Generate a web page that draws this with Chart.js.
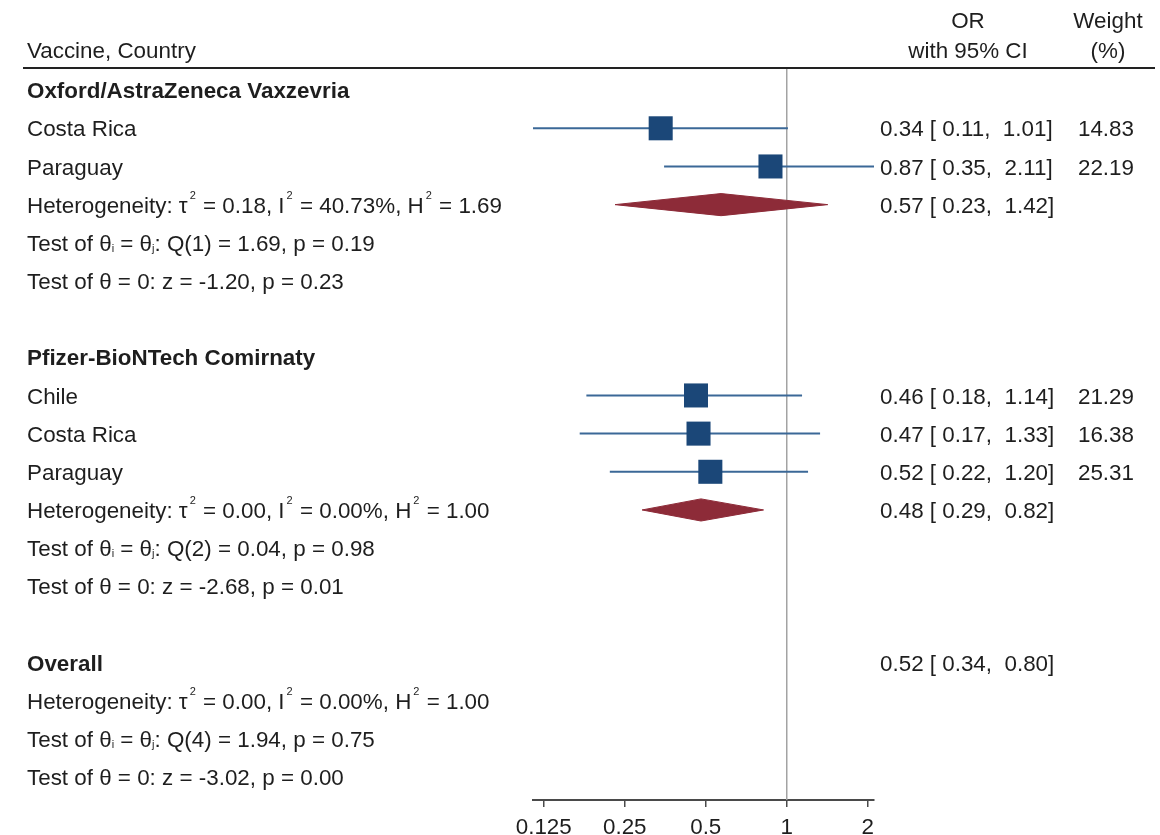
<!DOCTYPE html>
<html>
<head>
<meta charset="utf-8">
<title>Forest plot</title>
<script src="https://cdn.jsdelivr.net/npm/chart.js@4.4.1/dist/chart.umd.min.js"></script>
<style>
  html, body { margin: 0; padding: 0; background: #fff; }
  #wrap { position: relative; width: 1160px; height: 835px; }
</style>
</head>
<body>
<div id="wrap"><canvas id="forest"></canvas></div>
<script>
// left column text, one entry per row (^x = superscript x, _x = subscript x)
const rowLabels = [
  'Oxford/AstraZeneca Vaxzevria',
  'Costa Rica',
  'Paraguay',
  'Heterogeneity: τ^2 = 0.18, I^2 = 40.73%, H^2 = 1.69',
  'Test of θ_i = θ_j: Q(1) = 1.69, p = 0.19',
  'Test of θ = 0: z = -1.20, p = 0.23',
  '',
  'Pfizer-BioNTech Comirnaty',
  'Chile',
  'Costa Rica',
  'Paraguay',
  'Heterogeneity: τ^2 = 0.00, I^2 = 0.00%, H^2 = 1.00',
  'Test of θ_i = θ_j: Q(2) = 0.04, p = 0.98',
  'Test of θ = 0: z = -2.68, p = 0.01',
  '',
  'Overall',
  'Heterogeneity: τ^2 = 0.00, I^2 = 0.00%, H^2 = 1.00',
  'Test of θ_i = θ_j: Q(4) = 1.94, p = 0.75',
  'Test of θ = 0: z = -3.02, p = 0.00'
];
const boldRows = [0, 7, 15];

// single studies
const studyRows   = [1, 2, 8, 9, 10];
const studyOR     = [0.34, 0.87, 0.46, 0.47, 0.52];
const studyLo     = [0.114, 0.35, 0.18, 0.17, 0.22];
const studyHi     = [1.01, 2.11, 1.14, 1.33, 1.20];
const studyWeight = [14.83, 22.19, 21.29, 16.38, 25.31];

// pooled estimates (the overall one has no diamond in the figure)
const pooledRows  = [3, 11, 15];
const pooledOR    = [0.57, 0.48, 0.52];
const pooledLo    = [0.23, 0.29, 0.34];
const pooledHi    = [1.42, 0.82, 0.80];
const pooledDrawn = [true, true, false];

const xTicks = [0.125, 0.25, 0.5, 1, 2];
const nullOR = 1;

const FONT = '"Liberation Sans", Arial, Helvetica, sans-serif';
const textColor = '#1e1e1e';
const squareColor = '#1b4778';
const ciColor = '#3b6897';
const diamondColor = '#8d2b38';
const yMin = -0.58, yMax = 18.6;
const diamondHalf = 0.29;
const textShift = 2; // canvas 'middle' sits a little high for this font

const fmt = v => v.toFixed(2);
const ciText = (o, l, h) => fmt(o) + ' [ ' + fmt(l) + ',  ' + fmt(h) + ']';

function drawRich(ctx, str, x, y, bold) {
  const base = (bold ? 'bold ' : '') + '22.4px ' + FONT;
  const small = '11px ' + FONT;
  let cx = x;
  str.split(/([\^_].)/).forEach(part => {
    if (!part) return;
    if (part[0] === '^' || part[0] === '_') {
      const sup = part[0] === '^';
      ctx.font = small;
      cx += sup ? 2 : 0;
      ctx.fillText(part[1], cx, y + (sup ? -11 : 4));
      cx += ctx.measureText(part[1]).width + (sup ? 1 : 0);
    } else {
      ctx.font = base;
      ctx.fillText(part, cx, y);
      cx += ctx.measureText(part).width;
    }
  });
}

const textPlugin = {
  id: 'forestText',
  afterDraw(chart) {
    const { ctx, chartArea } = chart;
    const y = chart.scales.y;
    ctx.save();
    ctx.fillStyle = textColor;
    ctx.textBaseline = 'middle';

    // header
    ctx.font = '22.4px ' + FONT;
    ctx.textAlign = 'left';
    ctx.fillText('Vaccine, Country', 27, chartArea.top - 16);
    ctx.textAlign = 'center';
    ctx.fillText('OR', 968, chartArea.top - 46);
    ctx.fillText('with 95% CI', 968, chartArea.top - 16);
    ctx.fillText('Weight', 1108, chartArea.top - 46);
    ctx.fillText('(%)', 1108, chartArea.top - 16);

    ctx.strokeStyle = '#222';
    ctx.lineWidth = 2;
    ctx.beginPath();
    ctx.moveTo(23, chartArea.top);
    ctx.lineTo(1155, chartArea.top);
    ctx.stroke();

    // left column
    ctx.textAlign = 'left';
    rowLabels.forEach((t, r) => {
      if (t) drawRich(ctx, t, 27, y.getPixelForValue(r) + textShift, boldRows.includes(r));
    });

    // right columns
    ctx.font = '22.4px ' + FONT;
    studyRows.forEach((r, i) => {
      const py = y.getPixelForValue(r) + textShift;
      ctx.textAlign = 'left';
      ctx.fillText(ciText(studyOR[i], studyLo[i], studyHi[i]), 880, py);
      ctx.textAlign = 'right';
      ctx.fillText(fmt(studyWeight[i]), 1134, py);
    });
    pooledRows.forEach((r, i) => {
      ctx.textAlign = 'left';
      ctx.fillText(ciText(pooledOR[i], pooledLo[i], pooledHi[i]), 880, y.getPixelForValue(r) + textShift);
    });
    ctx.restore();
  }
};

const datasets = [];
// squares on top
datasets.push({
  type: 'scatter',
  data: studyRows.map((r, i) => ({ x: studyOR[i], y: r })),
  pointStyle: 'rect',
  pointRadius: 17,
  pointHoverRadius: 17,
  backgroundColor: squareColor,
  borderWidth: 0,
  order: 0
});
// confidence intervals
studyRows.forEach((r, i) => {
  datasets.push({
    type: 'line',
    data: [{ x: studyLo[i], y: r }, { x: studyHi[i], y: r }],
    borderColor: ciColor,
    borderWidth: 2,
    pointRadius: 0,
    order: 1
  });
});
// diamonds: upper half filled down to lower half
pooledRows.forEach((r, i) => {
  if (!pooledDrawn[i]) return;
  const style = { type: 'line', borderColor: diamondColor, backgroundColor: diamondColor,
                  borderWidth: 1, pointRadius: 0, tension: 0, order: 1 };
  datasets.push(Object.assign({}, style, {
    data: [{ x: pooledLo[i], y: r }, { x: pooledOR[i], y: r - diamondHalf }, { x: pooledHi[i], y: r }],
    fill: '+1'
  }));
  datasets.push(Object.assign({}, style, {
    data: [{ x: pooledLo[i], y: r }, { x: pooledOR[i], y: r + diamondHalf }, { x: pooledHi[i], y: r }],
    fill: false
  }));
});
// line of no effect
datasets.push({
  type: 'line',
  data: [{ x: nullOR, y: yMin }, { x: nullOR, y: yMax }],
  borderColor: '#a3a3a3',
  borderWidth: 1.5,
  pointRadius: 0,
  order: 3
});

new Chart(document.getElementById('forest').getContext('2d'), {
  type: 'scatter',
  data: { datasets: datasets },
  options: {
    responsive: true,
    maintainAspectRatio: false,
    animation: false,
    events: [],
    layout: { padding: { left: 533, right: 286, top: 68, bottom: 0 } },
    plugins: { legend: { display: false }, tooltip: { enabled: false } },
    scales: {
      x: {
        type: 'logarithmic',
        min: Math.min(...studyLo, ...pooledLo),
        max: Math.max(...studyHi, ...pooledHi),
        afterBuildTicks: s => { s.ticks = xTicks.map(v => ({ value: v })); },
        afterFit: s => { s.height = 35; },
        ticks: {
          autoSkip: false, maxRotation: 0, padding: 7, color: textColor,
          font: { family: FONT, size: 22.4 },
          callback: v => String(v)
        },
        grid: { display: true, drawOnChartArea: false, drawTicks: true, tickLength: 7, color: '#4a4a4a', lineWidth: 1.5 },
        border: { display: true, color: '#4a4a4a', width: 2 }
      },
      y: { type: 'linear', reverse: true, min: yMin, max: yMax, display: false }
    }
  },
  plugins: [textPlugin]
});
</script>
</body>
</html>
